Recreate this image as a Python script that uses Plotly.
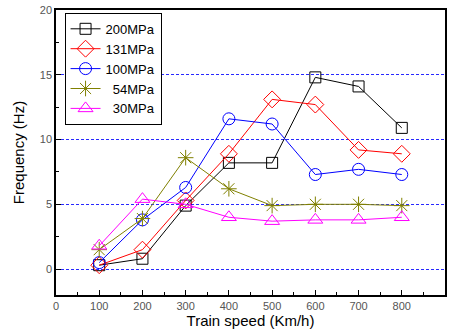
import plotly.graph_objects as go

speeds = [100, 200, 300, 400, 500, 600, 700, 800]
s200 = [0.3, 0.8, 4.9, 8.2, 8.2, 14.8, 14.1, 10.9]
s131 = [0.3, 1.5, 5.3, 8.9, 13.1, 12.7, 9.2, 8.9]
s100 = [0.5, 3.8, 6.3, 11.6, 11.2, 7.3, 7.7, 7.3]
s54 = [1.5, 3.9, 8.6, 6.2, 4.9, 5.0, 5.0, 4.9]
s30 = [1.8, 5.4, 5.0, 4.0, 3.7, 3.8, 3.8, 4.0]

names = ["200MPa", "131MPa", "100MPa", "  54MPa", "  30MPa"]
series = [s200, s131, s100, s54, s30]
colors = ["#000000", "#FF0000", "#0000FF", "#808000", "#FF00FF"]
symbols = ["square-open", "diamond-open", "circle-open", "asterisk-open", "triangle-up-open"]
sizes = [11, 13, 12, 13, 13]

fig = go.Figure()
for n, s, c, sym, sz in zip(names, series, colors, symbols, sizes):
    fig.add_trace(go.Scatter(
        x=speeds, y=s, name=n, mode="lines+markers",
        line=dict(color=c, width=1),
        marker=dict(symbol=sym, size=sz, color=c, line=dict(color=c, width=1)),
    ))

axis_common = dict(
    showline=True, linecolor="#000000", linewidth=1.5, mirror=True,
    ticks="inside", ticklen=5, tickcolor="#000000",
    tickfont=dict(family="Arial, Liberation Sans", size=11, color="#555555"),
    zeroline=False, automargin=False,
)

fig.update_xaxes(
    range=[0, 900], tick0=0, dtick=100, showgrid=False,
    minor=dict(ticks="inside", ticklen=3, dtick=50, tickcolor="#000000"),
    title=dict(text="Train speed (Km/h)", font=dict(family="Arial, Liberation Sans", size=15, color="#000000"), standoff=4),
    **axis_common,
)
fig.update_yaxes(
    range=[-2, 20], tick0=0, dtick=5, showgrid=True,
    gridcolor="rgb(40,40,255)", griddash="3px,2px", gridwidth=1.4,
    minor=dict(ticks="inside", ticklen=3, dtick=2.5, tickcolor="#000000", showgrid=False),
    title=dict(text="Frequency (Hz)", font=dict(family="Arial, Liberation Sans", size=15, color="#000000"), standoff=12),
    **axis_common,
)

fig.update_layout(
    width=452, height=335,
    margin=dict(l=56, r=7, t=10, b=40, autoexpand=False),
    paper_bgcolor="white", plot_bgcolor="white",
    showlegend=True,
    legend=dict(
        x=0.022, y=0.99, xanchor="left", yanchor="top",
        bordercolor="#000000", borderwidth=1, bgcolor="white",
        font=dict(family="Arial, Liberation Sans", size=13, color="#000000"),
        tracegroupgap=0, itemwidth=30,
    ),
)

# remove the default page margin so the 452x335 figure fills the window
fig.write_html(
    "out.html",
    config={"displayModeBar": False},
    post_script="document.body.style.margin='0';document.body.style.overflow='hidden';",
)
